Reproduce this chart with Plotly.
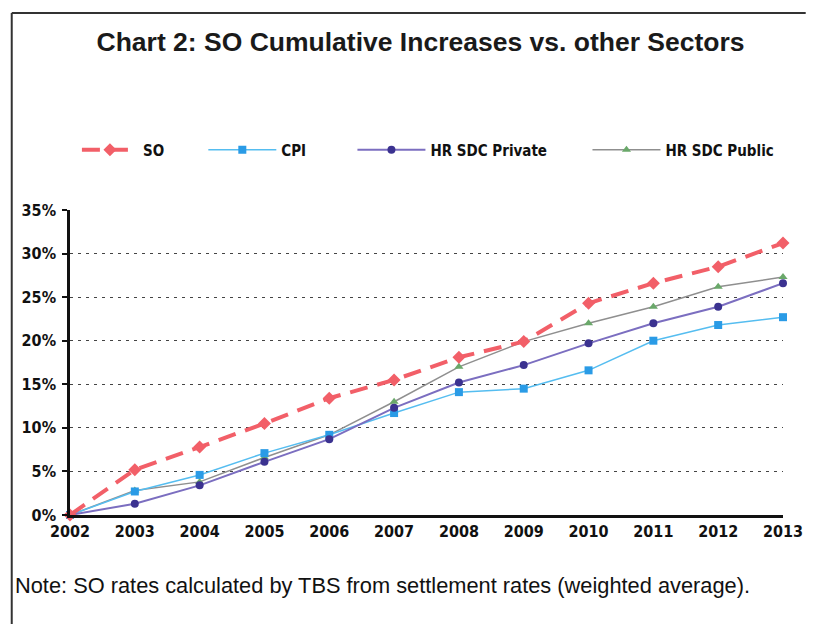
import plotly.graph_objects as go

years = [2002, 2003, 2004, 2005, 2006, 2007, 2008, 2009, 2010, 2011, 2012, 2013]
so = [0.0, 5.2, 7.8, 10.5, 13.4, 15.5, 18.1, 19.9, 24.3, 26.6, 28.5, 31.2]
cpi = [0.0, 2.7, 4.6, 7.1, 9.2, 11.7, 14.1, 14.5, 16.6, 20.0, 21.8, 22.7]
hr_private = [0.0, 1.3, 3.4, 6.1, 8.7, 12.3, 15.2, 17.2, 19.7, 22.0, 23.9, 26.6]
hr_public = [0.0, 2.8, 3.8, 6.6, 9.2, 13.0, 17.0, 19.9, 22.0, 23.9, 26.2, 27.3]
y_ticks = [0, 5, 10, 15, 20, 25, 30, 35]
y_tick_labels = [f"{v}%" for v in y_ticks]

narrow = "DejaVu Sans Condensed, Liberation Sans Narrow, sans-serif"
# plot area in pixels: x 70..792, y 210..515
PW, PH = 722, 305


def px_x(p):
    return (p - 70) / PW


def px_y(p):
    return (515 - p) / PH


fig = go.Figure()

fig.add_trace(go.Scatter(
    x=years, y=hr_public, name="HR SDC Public", mode="lines+markers",
    line=dict(color="#8f8f8f", width=1.5),
    marker=dict(symbol="triangle-up", size=8, color="#6aa86a"),
    cliponaxis=False, legend="legend4"))
fig.add_trace(go.Scatter(
    x=years, y=cpi, name="CPI", mode="lines+markers",
    line=dict(color="#55bdf0", width=1.5),
    marker=dict(symbol="square", size=8, color="#2a9be6"),
    cliponaxis=False, legend="legend2"))
fig.add_trace(go.Scatter(
    x=years, y=hr_private, name="HR SDC Private", mode="lines+markers",
    line=dict(color="#7b6ec0", width=2),
    marker=dict(symbol="circle", size=8, color="#3b3290"),
    cliponaxis=False, legend="legend3"))
fig.add_trace(go.Scatter(
    x=years, y=so, name="SO", mode="lines+markers",
    line=dict(color="#f25f68", width=4, dash="18px,10px"),
    marker=dict(symbol="diamond", size=10, color="#f25f68"),
    cliponaxis=False, legend="legend"))

legend_font = dict(family=narrow, size=15, color="#111", weight="bold")


def legend_at(xpix, item_w):
    return dict(orientation="h", x=px_x(xpix), xanchor="left",
                y=px_y(150), yanchor="middle", itemwidth=item_w,
                font=legend_font, bgcolor="rgba(0,0,0,0)", itemclick=False,
                borderwidth=0)


fig.update_layout(
    width=815, height=624,
    margin=dict(l=70, r=23, t=210, b=109),
    paper_bgcolor="white", plot_bgcolor="white",
    title=dict(text="<b>Chart 2: SO Cumulative Increases vs. other Sectors</b>",
               x=0.516, xanchor="center", y=0.933, yanchor="middle",
               font=dict(family="Liberation Sans, Arial, sans-serif", size=26.5, color="#1a1a1a")),
    legend=legend_at(77, 56),
    legend2=legend_at(205, 68),
    legend3=legend_at(356, 68),
    legend4=legend_at(594, 68),
    showlegend=True,
)

fig.update_xaxes(
    range=[2002, 2013], tickmode="array", tickvals=years,
    ticktext=[str(y) for y in years],
    showgrid=False, zeroline=False,
    showline=True, linecolor="#111", linewidth=2.5,
    ticks="", ticklabelstandoff=0,
    tickfont=dict(family=narrow, size=16, color="#111", weight="bold"),
)
fig.update_yaxes(
    range=[0, 35], tickmode="array", tickvals=y_ticks, ticktext=y_tick_labels,
    showgrid=True, gridcolor="#444", gridwidth=1, griddash="3px,5px",
    zeroline=False, showline=True, linecolor="#111", linewidth=2.5,
    ticks="outside", ticklen=5, tickcolor="#111", tickwidth=1.5,
    ticklabelstandoff=3,
    tickfont=dict(family=narrow, size=16, color="#111", weight="bold"),
)

# frame around the chart
fig.add_shape(type="line", xref="paper", yref="paper",
              x0=px_x(11), x1=px_x(815), y0=px_y(13), y1=px_y(13),
              line=dict(color="#333", width=2))
fig.add_shape(type="line", xref="paper", yref="paper",
              x0=px_x(11), x1=px_x(11), y0=px_y(624), y1=px_y(13),
              line=dict(color="#333", width=2))

fig.add_annotation(
    text="Note: SO rates calculated by TBS from settlement rates (weighted average).",
    xref="paper", yref="paper", x=px_x(12), xanchor="left", y=px_y(585), yanchor="middle",
    showarrow=False, font=dict(family="Liberation Sans, Arial, sans-serif", size=21.8, color="#111"))

fig.write_html("out.html")
